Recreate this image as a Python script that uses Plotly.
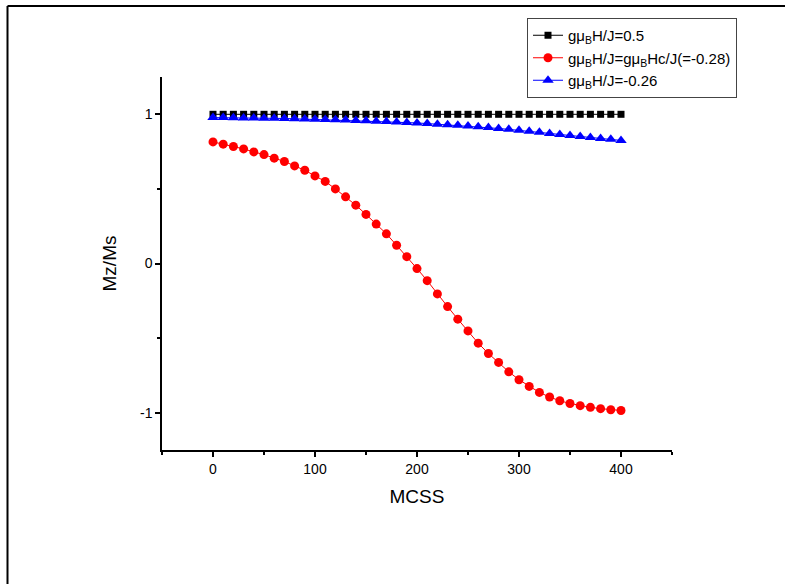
import plotly.graph_objects as go

mcss = list(range(0, 401, 10))

black_vals = [1.0] * 41

red_vals = [0.815, 0.800, 0.784, 0.768, 0.748, 0.730, 0.706, 0.684, 0.654, 0.625,
            0.587, 0.550, 0.500, 0.447, 0.391, 0.329, 0.264, 0.199, 0.122, 0.046,
            -0.034, -0.115, -0.204, -0.289, -0.373, -0.452, -0.534, -0.603, -0.663, -0.726,
            -0.779, -0.824, -0.864, -0.895, -0.920, -0.938, -0.953, -0.964, -0.973, -0.980,
            -0.985]

blue_vals = [0.978, 0.978, 0.977, 0.976, 0.975, 0.974, 0.973, 0.972, 0.970, 0.969,
             0.967, 0.965, 0.963, 0.961, 0.958, 0.956, 0.953, 0.951, 0.948, 0.945,
             0.942, 0.938, 0.934, 0.930, 0.926, 0.921, 0.916, 0.911, 0.905, 0.899,
             0.893, 0.886, 0.879, 0.872, 0.865, 0.858, 0.851, 0.845, 0.838, 0.832,
             0.825]

names = ["gμ<sub>B</sub>H/J=0.5",
         "gμ<sub>B</sub>H/J=gμ<sub>B</sub>Hc/J(=-0.28)",
         "gμ<sub>B</sub>H/J=-0.26"]

x_ticks = [0, 100, 200, 300, 400]
y_ticks = [-1, 0, 1]

W, H = 785, 584
L, R, T, B = 162, 672, 77, 450


def px_x(p):
    return (p - L) / (R - L)


def px_y(p):
    return (B - p) / (B - T)


fig = go.Figure()
fig.add_trace(go.Scatter(x=mcss, y=black_vals, mode="lines+markers", name=names[0],
                         line=dict(color="black", width=1),
                         marker=dict(symbol="square", size=7, color="black")))
fig.add_trace(go.Scatter(x=mcss, y=red_vals, mode="lines+markers", name=names[1],
                         line=dict(color="red", width=1),
                         marker=dict(symbol="circle", size=9, color="red")))
fig.add_trace(go.Scatter(x=mcss, y=blue_vals, mode="lines+markers", name=names[2],
                         line=dict(color="blue", width=1),
                         marker=dict(symbol="triangle-up", size=10, color="blue")))

font_family = "Liberation Sans, Arial, sans-serif"

fig.update_layout(
    width=W, height=H,
    margin=dict(l=L, r=W - R, t=T, b=H - B),
    paper_bgcolor="white", plot_bgcolor="white",
    font=dict(family=font_family, color="black", size=14),
    showlegend=True,
    legend=dict(x=px_x(527), y=px_y(18), xanchor="left", yanchor="top",
                bgcolor="white", bordercolor="#444444", borderwidth=1,
                font=dict(size=15, family=font_family), tracegroupgap=0,
                itemwidth=30),
    xaxis=dict(range=[-50, 450], tickvals=x_ticks, ticktext=[str(v) for v in x_ticks],
               showgrid=False, zeroline=False, showline=True, linecolor="black",
               linewidth=1.5, ticks="outside", ticklen=5, tickwidth=1.5,
               tickcolor="black", tickfont=dict(size=14),
               minor=dict(tickvals=[-50, 50, 150, 250, 350, 450], ticks="outside",
                          ticklen=3, tickwidth=1.5, tickcolor="black"),
               title=dict(text="MCSS", font=dict(size=19), standoff=14)),
    yaxis=dict(range=[-1.25, 1.25], tickvals=y_ticks, ticktext=[str(v) for v in y_ticks],
               showgrid=False, zeroline=False, showline=True, linecolor="black",
               linewidth=1.5, ticks="outside", ticklen=5, tickwidth=1.5,
               tickcolor="black", tickfont=dict(size=14),
               minor=dict(tickvals=[-0.5, 0.5], ticks="outside",
                          ticklen=3, tickwidth=1.5, tickcolor="black"),
               title=dict(text="Mz/Ms", font=dict(size=19), standoff=18)),
    shapes=[
        dict(type="line", xref="paper", yref="paper", x0=px_x(7.5), x1=px_x(7.5),
             y0=px_y(6), y1=px_y(600), line=dict(color="black", width=2)),
        dict(type="line", xref="paper", yref="paper", x0=px_x(7.5), x1=px_x(800),
             y0=px_y(6), y1=px_y(6), line=dict(color="black", width=2)),
    ],
)

fig.write_html("out.html")
